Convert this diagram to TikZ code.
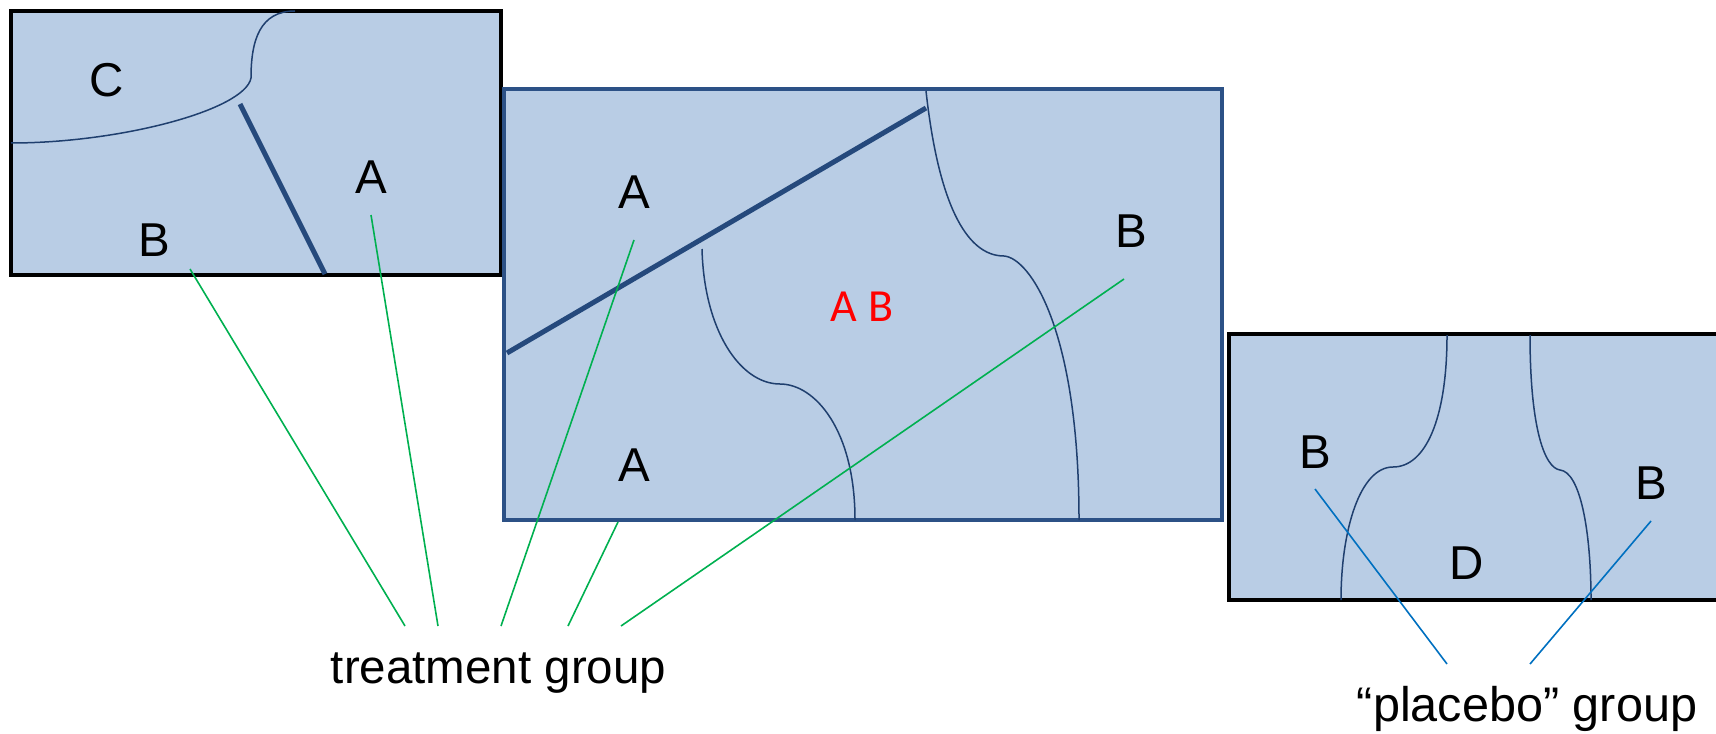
\documentclass[tikz,border=0pt]{standalone}
\usepackage{fontspec}
\setmainfont{Liberation Sans}
\newfontfamily\calfont{Carlito}
\definecolor{boxfill}{HTML}{B9CDE5}
\definecolor{boxblue}{HTML}{2C5186}
\definecolor{curvenavy}{HTML}{1F3F6E}
\definecolor{thickblue}{HTML}{25497C}
\definecolor{grp}{HTML}{00B050}
\definecolor{plc}{HTML}{0070C0}
\tikzset{
  regionblack/.style={fill=boxfill, draw=black, line width=2.3pt},
  regionblue/.style={fill=boxfill, draw=boxblue, line width=2.2pt},
  thinline/.style={draw=curvenavy, line width=0.75pt},
  wall/.style={draw=thickblue, line width=2.5pt},
  tline/.style={draw=grp, line width=0.8pt},
  pline/.style={draw=plc, line width=0.8pt},
  lab/.style={font=\fontsize{23.75}{28}\selectfont, inner sep=0pt},
  redlab/.style={font=\calfont\fontsize{23}{27}\selectfont, text=red, inner sep=0pt}
}
\begin{document}
\begin{tikzpicture}[x=0.5pt,y=-0.5pt]
\useasboundingbox (0,0) rectangle (1716,733);

% box 1
\draw[regionblack] (11,11) rectangle (501,275);
\draw[thinline] (11,143) .. controls (120,143) and (245,110) .. (251,78)
                .. controls (251,40) and (260,11) .. (295,11);
\draw[wall] (240,104) -- (325,274);

% box 2
\draw[regionblue] (504,89) rectangle (1222,520);
\draw[wall] (507,353) -- (926,108);
\draw[thinline] (926,91) .. controls (938,200) and (965,256) .. (1004,256)
                .. controls (1030,258) and (1079,330) .. (1079,520);
\draw[thinline] (702,249) .. controls (704,330) and (740,384) .. (780,384)
                .. controls (815,384) and (855,430) .. (855,520);

% box 3
\fill[boxfill] (1229,334) rectangle (1716,600);
\draw[black, line width=2.3pt] (1716,334) -- (1229,334) -- (1229,600) -- (1716,600);
\draw[thinline] (1447,335) .. controls (1447,420) and (1425,467) .. (1393,467)
                .. controls (1360,467) and (1341,530) .. (1341,600);
\draw[thinline] (1530,335) .. controls (1530,430) and (1545,468) .. (1560,470)
                .. controls (1580,472) and (1591,530) .. (1591,600);

% labels
\node[lab] (c1) at (107,80) {C};
\node[lab] (a1) at (371,177) {A};
\node[lab] (b1) at (154,240) {B};
\node[lab] (a2) at (634,192) {A};
\node[lab] (a3) at (634,465) {A};
\node[lab] (b2) at (1131,231) {B};
\node[redlab] (ab) at (862,307) {A B};
\node[lab] (b3) at (1315,452) {B};
\node[lab] (b4) at (1651,483) {B};
\node[lab] (d1) at (1467,563) {D};
\node[lab, anchor=base] (tg) at (498.5,683) {treatment group};
\node[lab, font=\fontsize{24.3}{28}\selectfont, anchor=base] (pg) at (1527,721) {“placebo” group};

% connector ends
\coordinate (sb1) at (190,269);
\coordinate (sa1) at (371,215);
\coordinate (sa2) at (634,240);
\coordinate (sa3) at (618,522);
\coordinate (sb2) at (1124,279);
\coordinate (t1) at (405,626);
\coordinate (t2) at (438,626);
\coordinate (t3) at (501,626);
\coordinate (t4) at (568,626);
\coordinate (t5) at (621,626);
\coordinate (sb3) at (1315,489);
\coordinate (sb4) at (1651,521);
\coordinate (p1) at (1447,664);
\coordinate (p2) at (1530,664);

\draw[tline] (sb1) -- (t1);
\draw[tline] (sa1) -- (t2);
\draw[tline] (sa2) -- (t3);
\draw[tline] (sa3) -- (t4);
\draw[tline] (sb2) -- (t5);
\draw[pline] (sb3) -- (p1);
\draw[pline] (sb4) -- (p2);
\end{tikzpicture}
\end{document}
